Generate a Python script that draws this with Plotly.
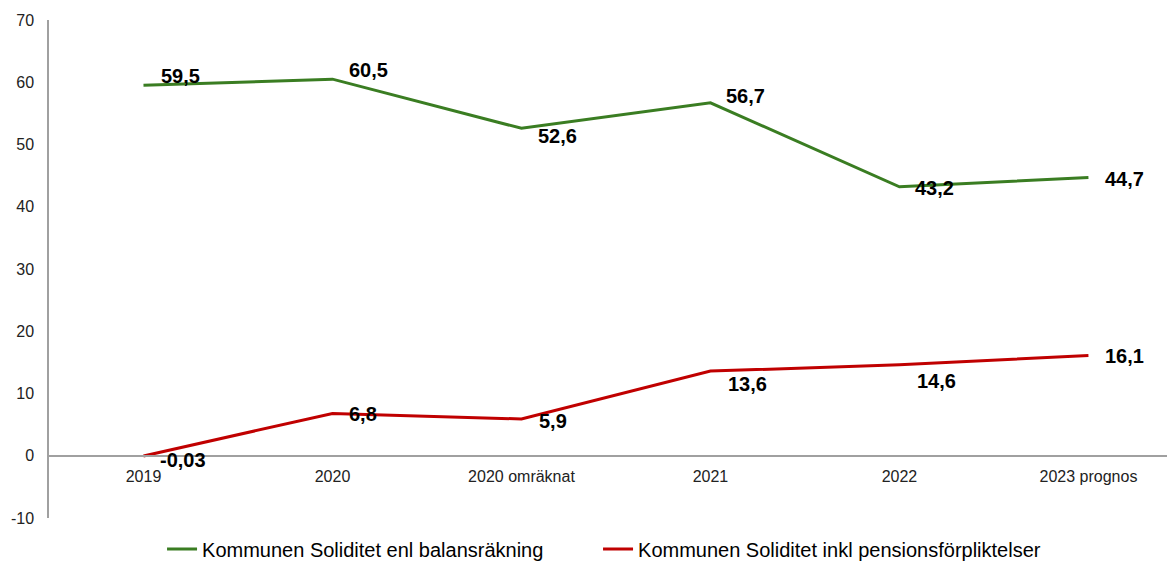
import plotly.graph_objects as go

categories = ["2019", "2020", "2020 omräknat", "2021", "2022", "2023 prognos"]
green_values = [59.5, 60.5, 52.6, 56.7, 43.2, 44.7]
red_values = [-0.03, 6.8, 5.9, 13.6, 14.6, 16.1]
green_labels = ["59,5", "60,5", "52,6", "56,7", "43,2", "44,7"]
red_labels = ["-0,03", "6,8", "5,9", "13,6", "14,6", "16,1"]
green_name = "Kommunen Soliditet enl balansräkning"
red_name = "Kommunen Soliditet inkl pensionsförpliktelser"
y_ticks = [-10, 0, 10, 20, 30, 40, 50, 60, 70]
y_tick_text = ["-10", "0", "10", "20", "30", "40", "50", "60", "70"]

GREEN = "#3a7d22"
RED = "#c00000"
FONT = "Liberation Sans, Arial, sans-serif"

# label offsets (pixels) for data labels
green_shift = [(16, 9), (15, 9), (15, -8), (14, 7), (14, -1), (15, -2)]
red_shift = [(15, -4), (15, -1), (16, -2), (16, -13), (16, -16), (15, 0)]

fig = go.Figure()
fig.add_trace(go.Scatter(x=categories, y=green_values, mode="lines", name=green_name,
                         line=dict(color=GREEN, width=3), legend="legend"))
fig.add_trace(go.Scatter(x=categories, y=red_values, mode="lines", name=red_name,
                         line=dict(color=RED, width=3), legend="legend2"))

annotations = []
for vals, labs, shifts in [(green_values, green_labels, green_shift),
                           (red_values, red_labels, red_shift)]:
    for i, (v, t, (dx, dy)) in enumerate(zip(vals, labs, shifts)):
        annotations.append(dict(x=i, y=v, xref="x", yref="y", text=t, showarrow=False,
                                xanchor="left", yanchor="middle", xshift=dx, yshift=dy,
                                font=dict(family=FONT, size=20, color="#000000", weight="bold")))

# page body has an 8px margin, so the figure is offset by 8px
W, H = 1167, 554
t_m, b_m, l_m = 12, 44, 41
zero_pos = 10 / 80
leg_font = dict(family=FONT, size=20, color="#000000")
leg_y = -0.0623

fig.update_layout(
    width=W, height=H,
    margin=dict(l=l_m, r=0, t=t_m, b=b_m, autoexpand=False),
    plot_bgcolor="white", paper_bgcolor="white",
    font=dict(family=FONT, color="#222222"),
    annotations=annotations,
    showlegend=True,
    legend=dict(orientation="h", x=0.1004, xanchor="left", y=leg_y, yanchor="middle",
                font=leg_font, itemwidth=30, bgcolor="rgba(0,0,0,0)"),
    legend2=dict(orientation="h", x=0.4876, xanchor="left", y=leg_y, yanchor="middle",
                 font=leg_font, itemwidth=30, bgcolor="rgba(0,0,0,0)"),
    xaxis=dict(type="category", range=[-0.5, 5.458], anchor="free", position=zero_pos,
               showline=True, linecolor="#a0a0a0", linewidth=1.5, showgrid=False,
               zeroline=False, ticks="", tickfont=dict(family=FONT, size=16, color="#222222"),
               ticklabelstandoff=6, automargin=False),
    yaxis=dict(range=[-10, 70], tickvals=y_ticks, ticktext=y_tick_text, showline=True,
               linecolor="#a0a0a0", linewidth=1.5, showgrid=False, zeroline=False, ticks="",
               tickfont=dict(family=FONT, size=16, color="#222222"), ticklabelstandoff=10,
               automargin=False),
)

fig.write_html("out.html")
